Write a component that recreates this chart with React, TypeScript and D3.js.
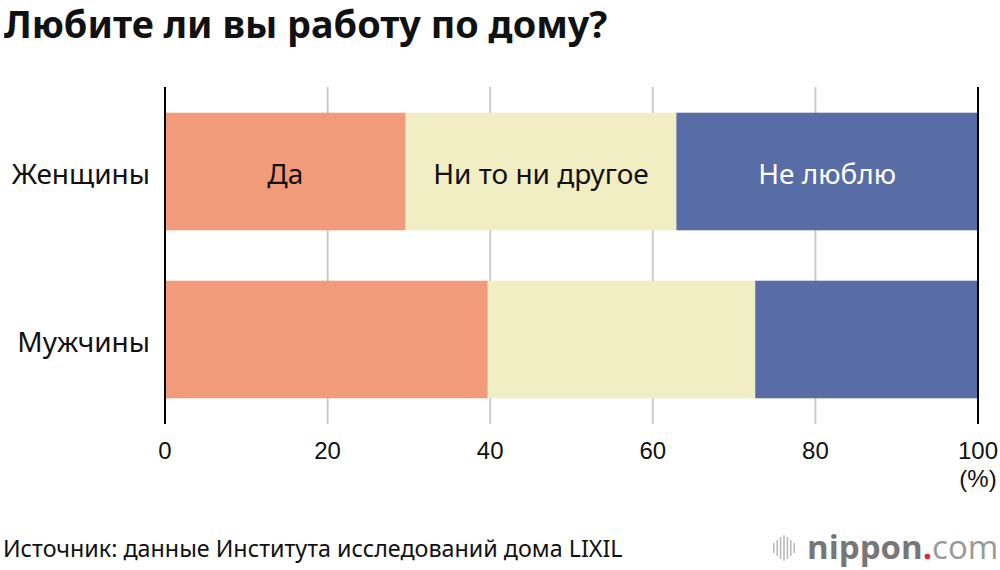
import React, { useEffect, useRef } from 'react';
import * as d3 from 'd3';

const categories = ['Женщины', 'Мужчины'];
const answers = ['Да', 'Ни то ни другое', 'Не люблю'];
const women = [29.6, 33.3, 37.1];
const men = [39.7, 32.9, 27.4];
const ticks = [0, 20, 40, 60, 80, 100];
const colors = ['#f29b7b', '#f1eec4', '#586ca6'];
const labelColors = ['#111', '#111', '#fff'];

const App: React.FC = () => {
  const ref = useRef<SVGSVGElement>(null);

  useEffect(() => {
    const svg = d3.select(ref.current);
    svg.selectAll('*').remove();

    const sans = '"Noto Sans", sans-serif';
    const x = d3.scaleLinear().domain([0, 100]).range([165, 978]);
    const y = d3.scaleBand().domain(categories).range([112.7, 398.3]).paddingInner(0.3).paddingOuter(0);

    // title
    svg.append('text')
      .attr('x', 4).attr('y', 38)
      .attr('font-family', sans).attr('font-weight', 700).attr('font-size', 37.8)
      .attr('fill', '#111')
      .text('Любите ли вы работу по дому?');

    // grid
    svg.append('g').selectAll('line')
      .data(ticks.slice(1, -1))
      .enter().append('line')
      .attr('x1', d => x(d)).attr('x2', d => x(d))
      .attr('y1', 87).attr('y2', 424)
      .attr('stroke', '#cccccc').attr('stroke-width', 2);

    // stacked bars
    const rows = [women, men];
    rows.forEach((vals, i) => {
      const cat = categories[i];
      let acc = 0;
      const g = svg.append('g');
      vals.forEach((v, j) => {
        const x0 = acc;
        acc += v;
        g.append('rect')
          .attr('x', x(x0)).attr('y', y(cat)!)
          .attr('width', x(acc) - x(x0)).attr('height', y.bandwidth())
          .attr('fill', colors[j]);
        if (i === 0) {
          g.append('text')
            .attr('x', (x(x0) + x(acc)) / 2)
            .attr('y', y(cat)! + y.bandwidth() / 2)
            .attr('dy', '0.45em')
            .attr('text-anchor', 'middle')
            .attr('font-family', sans).attr('font-size', 28)
            .attr('fill', labelColors[j])
            .text(answers[j]);
        }
      });
      svg.append('text')
        .attr('x', 150)
        .attr('y', y(cat)! + y.bandwidth() / 2)
        .attr('dy', '0.45em')
        .attr('text-anchor', 'end')
        .attr('font-family', sans).attr('font-size', 28)
        .attr('fill', '#111')
        .text(cat);
    });

    // edge lines
    [0, 100].forEach(d => {
      svg.append('line')
        .attr('x1', x(d)).attr('x2', x(d))
        .attr('y1', 87).attr('y2', 424)
        .attr('stroke', '#000').attr('stroke-width', 2);
    });

    // tick labels
    svg.append('g').selectAll('text')
      .data(ticks)
      .enter().append('text')
      .attr('x', d => x(d)).attr('y', 459)
      .attr('text-anchor', 'middle')
      .attr('font-family', '"Liberation Sans", Arial, sans-serif').attr('font-size', 24)
      .attr('fill', '#111')
      .text(d => d);
    svg.append('text')
      .attr('x', x(100)).attr('y', 487)
      .attr('text-anchor', 'middle')
      .attr('font-family', '"Liberation Sans", Arial, sans-serif').attr('font-size', 24)
      .attr('fill', '#111')
      .text('(%)');

    // source
    svg.append('text')
      .attr('x', 3).attr('y', 557)
      .attr('font-family', sans).attr('font-size', 23.3)
      .attr('fill', '#111')
      .text('Источник: данные Института исследований дома LIXIL');

    // logo
    const logo = svg.append('g');
    const bars = [10, 16, 22, 26, 22, 16, 10];
    bars.forEach((h, i) => {
      logo.append('rect')
        .attr('x', 773 + i * 3.4).attr('y', 548 - h / 2)
        .attr('width', 1.6).attr('height', h)
        .attr('fill', '#bbb');
    });
    const t = logo.append('text')
      .attr('x', 807).attr('y', 559)
      .attr('font-family', '"Open Sans", sans-serif').attr('font-size', 33);
    t.append('tspan').attr('font-weight', 700).attr('fill', '#777').text('nippon');
    t.append('tspan').attr('font-weight', 700).attr('fill', '#e8262a').text('.');
    t.append('tspan').attr('font-weight', 400).attr('fill', '#999').text('com');
  }, []);

  return (
    <svg ref={ref} width={1000} height={570}
      style={{ position: 'absolute', left: 0, top: 0, background: '#fff' }} />
  );
};

export default App;
